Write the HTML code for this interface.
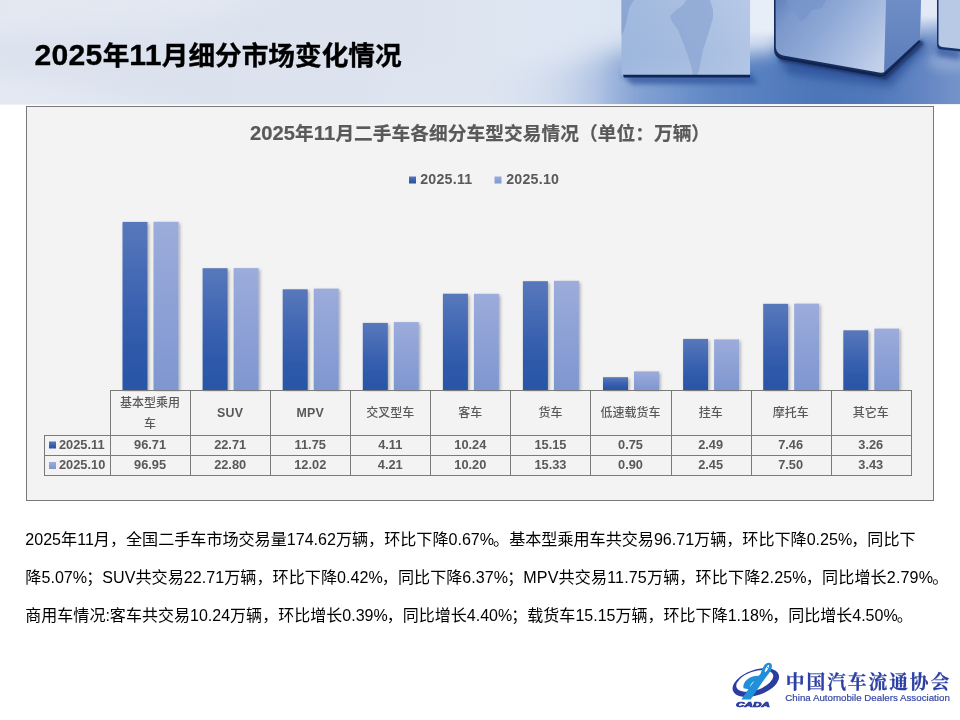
<!DOCTYPE html>
<html lang="zh-CN">
<head>
<meta charset="utf-8">
<title>2025年11月细分市场变化情况</title>
<style>
html,body{margin:0;padding:0;}
body{width:960px;height:720px;position:relative;overflow:hidden;background:#fff;font-family:"Liberation Sans","Noto Sans CJK SC",sans-serif;}
#hdr{position:absolute;left:0;top:0;width:960px;height:105px;background:#dde3ee;overflow:hidden;}
#hdr svg{position:absolute;left:0;top:0;}
#title{position:absolute;left:34.5px;top:38px;font-size:26.67px;font-weight:bold;color:#000;line-height:36px;white-space:nowrap;}
#title{-webkit-text-stroke:0.35px #000;}
#title b{font-size:30.1px;line-height:30px;letter-spacing:0.3px;}
#box{position:absolute;left:26px;top:106px;width:906px;height:393px;border:1px solid #787878;background:#f3f3f3;}
#chart{position:absolute;left:0;top:0;}
#ctitle b{font-size:20.2px;line-height:20px;}
#ctitle{position:absolute;left:26px;width:908px;top:120.5px;letter-spacing:0.08px;-webkit-text-stroke:0.2px #595959;text-align:center;font-size:18.67px;font-weight:bold;color:#595959;line-height:26px;white-space:nowrap;}
.lg{position:absolute;top:171.2px;font-size:14.2px;font-weight:bold;color:#595959;line-height:16px;white-space:nowrap;letter-spacing:0.25px;}
.c{position:absolute;text-align:center;font-size:12.8px;font-weight:bold;color:#595959;white-space:nowrap;}
.hd{top:391.3px;height:45px;display:flex;align-items:center;justify-content:center;line-height:21px;font-weight:500;font-size:12px;}
.hd b{font-weight:bold;font-size:12.4px;letter-spacing:0.2px;}
.r1{top:435px;height:20px;line-height:20px;}
.r2{top:455px;height:20px;line-height:20px;}
.p i{font-style:normal;margin-right:-1px;}
.p{position:absolute;left:25.3px;font-size:16.08px;color:#000;line-height:24px;white-space:nowrap;}
</style>
</head>
<body>
<div id="hdr">
<svg width="960" height="105" viewBox="0 0 960 105">
<defs>
<linearGradient id="hbg" x1="0" x2="960" y1="0" y2="0" gradientUnits="userSpaceOnUse">
<stop offset="0" stop-color="#dbe2ee"/><stop offset="0.42" stop-color="#dce3ef"/><stop offset="0.55" stop-color="#dee6f2"/><stop offset="0.64" stop-color="#dce5f2"/><stop offset="1" stop-color="#d5e0f3"/>
</linearGradient>
<linearGradient id="flr" x1="0" x2="960" y1="0" y2="0" gradientUnits="userSpaceOnUse">
<stop offset="0.5" stop-color="#dee5f1"/><stop offset="0.534" stop-color="#dbe3f0"/><stop offset="0.57" stop-color="#d3ddee"/><stop offset="0.604" stop-color="#c0cfe8"/><stop offset="0.639" stop-color="#a3badf"/><stop offset="0.658" stop-color="#86a3d3"/><stop offset="0.69" stop-color="#789acf"/><stop offset="0.734" stop-color="#6389c5"/><stop offset="0.79" stop-color="#5780c0"/><stop offset="0.854" stop-color="#4c75b7"/><stop offset="0.915" stop-color="#5079ba"/><stop offset="0.96" stop-color="#6385c2"/><stop offset="1" stop-color="#7594ca"/>
</linearGradient>
<linearGradient id="c1" x1="621" x2="750" y1="76" y2="0" gradientUnits="userSpaceOnUse">
<stop offset="0" stop-color="#9cb5dc"/><stop offset="0.5" stop-color="#a6bde0"/><stop offset="1" stop-color="#b8c9e7"/>
</linearGradient>
<linearGradient id="c1b" x1="0" x2="0" y1="55" y2="76" gradientUnits="userSpaceOnUse">
<stop offset="0" stop-color="#c2d2ec" stop-opacity="0"/><stop offset="1" stop-color="#c2d2ec" stop-opacity="0.2"/>
</linearGradient>
<linearGradient id="c2" x1="778" x2="875" y1="0" y2="72" gradientUnits="userSpaceOnUse">
<stop offset="0" stop-color="#6383bd"/><stop offset="0.15" stop-color="#7b98cb"/><stop offset="0.45" stop-color="#8fa9d6"/><stop offset="0.75" stop-color="#aabee1"/><stop offset="1" stop-color="#c2d0ea"/>
</linearGradient>
<linearGradient id="c2r" x1="0" x2="0" y1="0" y2="75" gradientUnits="userSpaceOnUse">
<stop offset="0" stop-color="#6f8ec7"/><stop offset="1" stop-color="#5a7cba"/>
</linearGradient>
<filter id="b18" x="-30%" y="-80%" width="160%" height="260%"><feGaussianBlur stdDeviation="9"/></filter>
<filter id="b16" x="-30%" y="-80%" width="160%" height="260%"><feGaussianBlur stdDeviation="12"/></filter>
<filter id="b4" x="-20%" y="-50%" width="140%" height="200%"><feGaussianBlur stdDeviation="4"/></filter>
<filter id="b15" x="-20%" y="-50%" width="140%" height="200%"><feGaussianBlur stdDeviation="1.600"/></filter>
<filter id="b3" x="-20%" y="-50%" width="140%" height="200%"><feGaussianBlur stdDeviation="2.500"/></filter>
<filter id="b1" x="-10%" y="-30%" width="120%" height="160%"><feGaussianBlur stdDeviation="0.7"/></filter>
</defs>
<rect width="960" height="105" fill="url(#hbg)"/>
<!-- floor -->
<path d="M380 150 L380 70 L560 66 L612 52 L660 48 L660 150 Z" fill="url(#flr)" filter="url(#b16)"/>
<path d="M610 140 L610 64 L745 54 L776 52 L790 32 L915 32 L940 28 L1000 28 L1000 140 Z" fill="url(#flr)" filter="url(#b18)"/>
<path d="M-20 120 L-20 70 L40 80 L200 120 Z" fill="#e6ebf3" opacity="0.8" filter="url(#b16)"/>
<path d="M-20 -20 L300 -20 L200 20 L-20 40 Z" fill="#e6ebf3" opacity="0.7" filter="url(#b16)"/>
<rect x="748" y="-10" width="28" height="44" fill="#e8eef8" filter="url(#b3)"/>
<rect x="919" y="-10" width="20" height="28" fill="#e3eaf6" filter="url(#b3)"/>
<ellipse cx="950" cy="62" rx="22" ry="10" fill="#93abd6" opacity="0.7" filter="url(#b4)"/>
<!-- cube shadows -->
<path d="M621 74 L752 74 L758 84 L632 84 Z" fill="#34599f" opacity="0.8" filter="url(#b3)"/>
<path d="M776 52 L884 74 L921 40 L926 47 L890 87 L788 74 Z" fill="#2b4f98" opacity="0.75" filter="url(#b4)"/>
<path d="M936 46 L960 50 L960 60 L938 56 Z" fill="#34599f" opacity="0.7" filter="url(#b3)"/>
<path d="M778 55 L884 74 L921 40 L924 44 L886 80 L780 61 Z" fill="#14295a" opacity="0.75" filter="url(#b15)"/>
<!-- cube 1 -->
<path d="M621.500 0 L750 0 L750 74 Q750 76 748 76 L624 76 Q621.500 76 621.500 73 Z" fill="url(#c1)"/>
<path d="M621.500 55 L750 55 L750 76 L621.500 76 Z" fill="url(#c1b)"/>
<!-- south america -->
<path d="M686 0 L710 0 L713 10 L713 18 L710 28 L707 38 L703 50 L701 60 L699 70 L697 75 L693 75 L691 66 L688 56 L685 48 L681 38 L678 30 L672 22 L670 16 L676 10 L683 5 Z" fill="#8fa9d5" opacity="0.8" filter="url(#b1)"/>
<path d="M621.500 0 L634 0 L629 8 L627 20 L624 30 L621.500 36 Z" fill="#89a4d2" opacity="0.85" filter="url(#b1)"/>
<path d="M623 74.800 L750 74.800 L750 77.600 L624 77.600 Z" fill="#0f2757" filter="url(#b1)"/>
<!-- cube 2 -->
<path d="M774 0 L921 0 L920 40 L884 74 Q882 76 878 74 L780 57 Q774.500 55 774.500 49 Z" fill="url(#c2)"/>
<path d="M786 0 L826 0 L822 8 L812 10 L806 18 L800 22 L796 14 L790 10 Z" fill="#7795cb" opacity="0.7" filter="url(#b1)"/>
<path d="M886 0 L921 0 L920 40 L884 74 Z" fill="url(#c2r)"/>
<path d="M774 0 L775.500 0 L775.800 48 Q777 54 783 55.500 L879 72.500 Q883 73.500 885 71.500 L919 40 L921 41.500 L886 75 Q883 77.500 878 76.500 L781 59 Q774 57 774 49 Z" fill="#0c2150" opacity="0.92" filter="url(#b1)"/>
<!-- cube 3 -->
<path d="M937.500 0 L960 0 L960 50 L941 48 Q937.500 47 937.500 44 Z" fill="#b8c9e6"/>
<path d="M937 0 L938.500 0 L938.500 44 Q939 46.500 942 47 L960 49 L960 51.500 L941 49.500 Q937 49 937 44 Z" fill="#14306a" filter="url(#b1)"/>
<rect x="0" y="104" width="960" height="1" fill="#eef1f6"/>
</svg>
</div>
<div id="title"><b>2025</b>年<b>11</b>月细分市场变化情况</div>
<div id="box"></div>
<svg id="chart" width="960" height="720" viewBox="0 0 960 720">
<defs>
<linearGradient id="gd" x1="0" x2="0" y1="0" y2="1"><stop offset="0" stop-color="#5878bb"/><stop offset="0.5" stop-color="#3a62b1"/><stop offset="0.75" stop-color="#2e59aa"/><stop offset="1" stop-color="#2b56a7"/></linearGradient>
<linearGradient id="gl" x1="0" x2="0" y1="0" y2="1"><stop offset="0" stop-color="#9cacdb"/><stop offset="1" stop-color="#7f96d0"/></linearGradient>
<clipPath id="cp"><rect x="0" y="0" width="960" height="391.500"/></clipPath>
<filter id="sh" x="-20%" y="-5%" width="150%" height="115%"><feDropShadow dx="1.5" dy="1.5" stdDeviation="1.5" flood-color="#000" flood-opacity="0.3"/></filter>
</defs>
<g clip-path="url(#cp)"><g filter="url(#sh)">
<rect fill="url(#gd)" x="122.5" y="221.9" width="25" height="168.3"/>
<rect fill="url(#gl)" x="153.5" y="221.8" width="25" height="168.4"/>
<rect fill="url(#gd)" x="202.6" y="268.2" width="25" height="122.0"/>
<rect fill="url(#gl)" x="233.6" y="268.1" width="25" height="122.1"/>
<rect fill="url(#gd)" x="282.7" y="289.3" width="25" height="100.9"/>
<rect fill="url(#gl)" x="313.7" y="288.6" width="25" height="101.6"/>
<rect fill="url(#gd)" x="362.8" y="322.9" width="25" height="67.3"/>
<rect fill="url(#gl)" x="393.8" y="322.1" width="25" height="68.1"/>
<rect fill="url(#gd)" x="442.9" y="293.7" width="25" height="96.5"/>
<rect fill="url(#gl)" x="473.9" y="293.8" width="25" height="96.4"/>
<rect fill="url(#gd)" x="522.9" y="281.2" width="25" height="109.0"/>
<rect fill="url(#gl)" x="553.9" y="280.8" width="25" height="109.4"/>
<rect fill="url(#gd)" x="603.0" y="377.2" width="25" height="13.0"/>
<rect fill="url(#gl)" x="634.0" y="371.4" width="25" height="18.8"/>
<rect fill="url(#gd)" x="683.1" y="338.9" width="25" height="51.3"/>
<rect fill="url(#gl)" x="714.1" y="339.4" width="25" height="50.8"/>
<rect fill="url(#gd)" x="763.2" y="303.8" width="25" height="86.4"/>
<rect fill="url(#gl)" x="794.2" y="303.6" width="25" height="86.6"/>
<rect fill="url(#gd)" x="843.3" y="330.3" width="25" height="59.9"/>
<rect fill="url(#gl)" x="874.3" y="328.6" width="25" height="61.6"/>
</g></g>
<g fill="#7a7a7a" shape-rendering="crispEdges">
<rect x="110" y="390" width="1" height="86"/>
<rect x="190" y="390" width="1" height="86"/>
<rect x="270" y="390" width="1" height="86"/>
<rect x="350" y="390" width="1" height="86"/>
<rect x="430" y="390" width="1" height="86"/>
<rect x="510" y="390" width="1" height="86"/>
<rect x="590" y="390" width="1" height="86"/>
<rect x="671" y="390" width="1" height="86"/>
<rect x="751" y="390" width="1" height="86"/>
<rect x="831" y="390" width="1" height="86"/>
<rect x="911" y="390" width="1" height="86"/>
<rect x="110" y="390" width="802" height="1"/>
<rect x="44" y="435" width="868" height="1"/>
<rect x="44" y="455" width="868" height="1"/>
<rect x="44" y="475" width="868" height="1"/>
<rect x="44" y="435" width="1" height="41"/>
</g>
<rect x="409" y="176.500" width="7" height="7" fill="url(#gd)"/>
<rect x="494.500" y="176.500" width="7" height="7" fill="url(#gl)"/>
<rect x="49" y="441.500" width="7" height="7" fill="url(#gd)"/>
<rect x="49" y="462" width="7" height="7" fill="url(#gl)"/>
</svg>
<div id="ctitle"><b>2025</b>年<b>11</b>月二手车各细分车型交易情况（单位：万辆）</div>
<div class="lg" style="left:420.2px">2025.11</div>
<div class="lg" style="left:506.2px">2025.10</div>
<div class="c r1" style="left:59px;width:50px;text-align:left">2025.11</div>
<div class="c r2" style="left:59px;width:50px;text-align:left">2025.10</div>
<div class="c hd" style="left:110.0px;width:80.1px">基本型乘用<br>车</div>
<div class="c r1" style="left:110.0px;width:80.1px">96.71</div>
<div class="c r2" style="left:110.0px;width:80.1px">96.95</div>
<div class="c hd" style="left:190.1px;width:80.1px"><b>SUV</b></div>
<div class="c r1" style="left:190.1px;width:80.1px">22.71</div>
<div class="c r2" style="left:190.1px;width:80.1px">22.80</div>
<div class="c hd" style="left:270.2px;width:80.1px"><b>MPV</b></div>
<div class="c r1" style="left:270.2px;width:80.1px">11.75</div>
<div class="c r2" style="left:270.2px;width:80.1px">12.02</div>
<div class="c hd" style="left:350.2px;width:80.1px">交叉型车</div>
<div class="c r1" style="left:350.2px;width:80.1px">4.11</div>
<div class="c r2" style="left:350.2px;width:80.1px">4.21</div>
<div class="c hd" style="left:430.3px;width:80.1px">客车</div>
<div class="c r1" style="left:430.3px;width:80.1px">10.24</div>
<div class="c r2" style="left:430.3px;width:80.1px">10.20</div>
<div class="c hd" style="left:510.4px;width:80.1px">货车</div>
<div class="c r1" style="left:510.4px;width:80.1px">15.15</div>
<div class="c r2" style="left:510.4px;width:80.1px">15.33</div>
<div class="c hd" style="left:590.5px;width:80.1px">低速载货车</div>
<div class="c r1" style="left:590.5px;width:80.1px">0.75</div>
<div class="c r2" style="left:590.5px;width:80.1px">0.90</div>
<div class="c hd" style="left:670.6px;width:80.1px">挂车</div>
<div class="c r1" style="left:670.6px;width:80.1px">2.49</div>
<div class="c r2" style="left:670.6px;width:80.1px">2.45</div>
<div class="c hd" style="left:750.6px;width:80.1px">摩托车</div>
<div class="c r1" style="left:750.6px;width:80.1px">7.46</div>
<div class="c r2" style="left:750.6px;width:80.1px">7.50</div>
<div class="c hd" style="left:830.7px;width:80.1px">其它车</div>
<div class="c r1" style="left:830.7px;width:80.1px">3.26</div>
<div class="c r2" style="left:830.7px;width:80.1px">3.43</div>
<div class="p" style="top:527px">2025年11月，全国二手车市场交易量174.62万辆，环比下降0.67<i>%</i>。基本型乘用车共交易96.71万辆，环比下降0.25<i>%</i>，同比下</div>
<div class="p" style="top:565px;letter-spacing:0.035px">降5.07<i>%</i>；SUV共交易22.71万辆，环比下降0.42<i>%</i>，同比下降6.37<i>%</i>；<span style="letter-spacing:0.14px">MPV共交易11.75万辆，环比下降2.25<i>%</i>，同比增长2.79<i>%</i>。</span></div>
<div class="p" style="top:604px;font-size:16px;letter-spacing:0.02px">商用车情况:客车共交易10.24万辆，环比增长0.39<i>%</i>，同比增长4.40<i>%</i>；载货车15.15万辆，环比下降1.18<i>%</i>，同比增长4.50<i>%</i>。</div>
<svg id="logo" width="240" height="70" viewBox="0 0 240 70" style="position:absolute;left:720px;top:650px">
<g transform="translate(5,5) scale(0.083333)">
<g transform="rotate(-19.500 369 330)">
<path fill-rule="evenodd" fill="#2b3ea0" d="M78 332 a291 152 0 1 0 582 0 a291 152 0 1 0 -582 0 Z M132 308 a232 112 0 1 1 464 0 a232 112 0 1 1 -464 0 Z"/>
</g>
<path d="M196 533 L308 533 L445 330 L548 192 Q578 130 550 100 Q515 78 476 116 Q446 160 426 226 L322 350 Z" fill="#2190d8"/>
<path d="M222 400 C205 320 300 240 420 250 L385 318 C340 308 296 345 300 415 Z" fill="#2190d8"/>
<g transform="rotate(-62 503 162)"><ellipse cx="503" cy="162" rx="48" ry="13" fill="#fff"/></g>
<circle cx="512" cy="150" r="7" fill="#2b3ea0"/>
</g>
<text x="16" y="56.800" font-family="'Liberation Sans',sans-serif" font-weight="bold" font-style="italic" font-size="7.600px" fill="#2b3ea0" stroke="#2b3ea0" stroke-width="0.7" textLength="34" lengthAdjust="spacingAndGlyphs">CADA</text>
<text x="65.800" y="38.800" font-family="'Liberation Serif','Noto Serif CJK SC',serif" font-weight="bold" font-size="18.800px" fill="#2c3fa2" stroke="#2c3fa2" stroke-width="0.25" textLength="163.500" lengthAdjust="spacing">中国汽车流通协会</text>
<text x="65.300" y="51.200" font-family="'Liberation Sans',sans-serif" font-size="9.900px" fill="#3446a5" stroke="#3446a5" stroke-width="0.2" textLength="164.500" lengthAdjust="spacingAndGlyphs">China Automobile Dealers Association</text>
</svg>
</body>
</html>
